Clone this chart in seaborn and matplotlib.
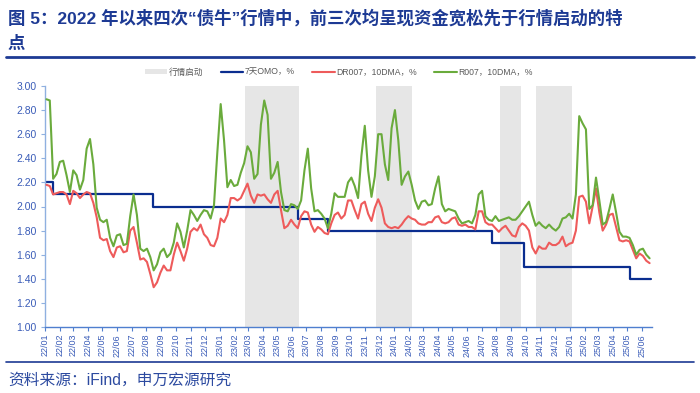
import matplotlib
matplotlib.use("Agg")
import matplotlib.pyplot as plt
import matplotlib.dates as mdates
from matplotlib.patches import Patch
from matplotlib.lines import Line2D
import pandas as pd
import seaborn as sns

sns.set_style("white")
plt.rcParams['font.family'] = ['Liberation Sans', 'Noto Sans CJK SC', 'DejaVu Sans']
plt.rcParams['axes.unicode_minus'] = False

# weekly observation dates
week_dates = pd.date_range("2022-01-04", periods=181, freq="7D")

r007 = [2.89, 2.88, 2.23, 2.27, 2.37, 2.38, 2.26, 2.12, 2.30, 2.26, 2.14, 2.22, 2.48, 2.56, 2.35, 1.99, 1.89, 1.87, 1.89, 1.74,
        1.67, 1.76, 1.77, 1.68, 1.69, 1.92, 2.10, 1.93, 1.65, 1.63, 1.65, 1.58, 1.47, 1.52, 1.62, 1.65, 1.58, 1.61, 1.70, 1.86,
        1.79, 1.66, 1.80, 1.97,
        1.93, 1.88, 1.93, 1.97, 1.96, 1.90, 2.01, 2.45, 2.85, 2.55, 2.16, 2.22, 2.17, 2.18, 2.28, 2.36, 2.50, 2.45, 2.23, 2.27,
        2.68, 2.88, 2.76, 2.23, 2.28, 2.37, 2.12, 1.97, 1.96, 2.02, 2.01, 1.98, 2.05, 2.30, 2.48, 2.15, 1.96, 1.97, 1.94, 1.90,
        1.82, 1.94, 2.11, 2.08, 2.08,
        2.08, 2.20, 2.24, 2.17, 2.07, 2.42, 2.67, 2.30, 2.08, 2.25, 2.60, 2.60, 2.35, 2.22, 2.65, 2.80, 2.55, 2.18, 2.25, 2.29,
        2.18, 2.05, 1.98, 2.04, 2.05, 2.01, 2.02, 2.15, 2.25, 2.02, 1.96, 1.98, 1.97, 1.96, 1.90, 1.86, 1.87, 1.88, 1.86, 1.93,
        2.10, 2.13, 1.92, 1.89, 1.88,
        1.92, 1.88, 1.89, 1.90, 1.91, 1.89, 1.89, 1.92, 1.96, 2.00, 2.04, 1.93, 1.84, 1.87, 1.84, 1.82, 1.85, 1.82, 1.80, 1.83,
        1.90, 1.91, 1.94, 1.90, 2.10, 2.75, 2.69, 2.64, 1.98, 2.01, 2.24, 2.05, 1.85, 1.87, 1.98, 2.10, 1.95, 1.79, 1.75, 1.75,
        1.74, 1.68, 1.60, 1.64, 1.65, 1.60, 1.57]

dr007 = [2.18, 2.17, 2.10, 2.11, 2.12, 2.12, 2.10, 2.02, 2.13, 2.11, 2.07, 2.10, 2.12, 2.11, 2.03, 1.91, 1.74, 1.72, 1.73, 1.63,
         1.58, 1.66, 1.67, 1.62, 1.63, 1.80, 1.83, 1.70, 1.56, 1.57, 1.54, 1.44, 1.33, 1.37, 1.45, 1.51, 1.47, 1.47, 1.60, 1.70,
         1.63, 1.55, 1.65, 1.79,
         1.82, 1.80, 1.85, 1.77, 1.74, 1.68, 1.67, 1.74, 1.90, 1.87, 1.93, 2.07, 2.07, 2.05, 2.07, 2.13, 2.19, 2.09, 2.03, 2.10,
         2.09, 2.10, 2.06, 2.03, 2.10, 2.13, 1.97, 1.82, 1.84, 1.89, 1.85, 1.82, 1.92, 1.96, 1.95, 1.85, 1.79, 1.83, 1.81, 1.78,
         1.77, 1.86, 1.93, 1.95, 1.90,
         1.93, 2.05, 2.05, 1.97, 1.90, 2.02, 2.04, 1.94, 1.88, 1.99, 2.06, 1.99, 1.86, 1.83, 1.82, 1.83, 1.82, 1.85, 1.89, 1.92,
         1.90, 1.89, 1.86, 1.85, 1.85, 1.87, 1.87, 1.91, 1.92, 1.87, 1.86, 1.87, 1.90, 1.91, 1.85, 1.84, 1.85, 1.83, 1.83, 1.81,
         1.96, 1.96, 1.87, 1.85, 1.85,
         1.82, 1.79, 1.82, 1.84, 1.80, 1.76, 1.75, 1.83, 1.86, 1.84, 1.80, 1.66, 1.61, 1.67, 1.65, 1.65, 1.70, 1.68, 1.68, 1.70,
         1.75, 1.67, 1.69, 1.70, 1.80, 2.08, 2.09, 2.04, 1.86, 2.00, 2.15, 1.95, 1.80, 1.85, 1.93, 1.94, 1.83, 1.72, 1.71, 1.72,
         1.71, 1.64, 1.57, 1.61, 1.59, 1.55, 1.53]

omo_dates = ["2022-01-04", "2022-01-17", "2022-08-15", "2023-06-13", "2023-08-15",
             "2024-07-22", "2024-09-27", "2025-05-08", "2025-06-20"]
omo_rate = [2.20, 2.10, 2.00, 1.90, 1.80, 1.70, 1.50, 1.40, 1.40]

rally_start = ["2023-02-22", "2023-11-23", "2024-08-08", "2024-10-22"]
rally_end = ["2023-06-15", "2024-02-06", "2024-09-22", "2025-01-05"]

legend_labels = ["行情启动", "7天OMO，%", "DR007，10DMA，%", "R007，10DMA，%"]
title_line1 = "图 5：2022 年以来四次“债牛”行情中，前三次均呈现资金宽松先于行情启动的特"
title_line2 = "点"
source_text = "资料来源：iFind，申万宏源研究"

C_OMO = "#0a2d8f"
C_DR = "#ee5b5b"
C_R = "#6aab3c"
C_SHADE = "#e6e6e6"
C_AX = "#4f7fcf"
C_TICK = "#3a5cb8"
C_TITLE = "#1d3a94"

df = pd.DataFrame({"date": week_dates, "DR007": dr007, "R007": r007})
omo = pd.DataFrame({"date": pd.to_datetime(omo_dates), "rate": omo_rate})

fig = plt.figure(figsize=(7.0, 3.93), dpi=100)
ax = fig.add_axes([45 / 700, 1 - 327 / 393, (652 - 45) / 700, (327 - 86) / 393])

for s, e in zip(rally_start, rally_end):
    ax.axvspan(pd.Timestamp(s), pd.Timestamp(e), color=C_SHADE, lw=0, zorder=0)

sns.lineplot(data=omo, x="date", y="rate", ax=ax, color=C_OMO, lw=1.6, drawstyle="steps-post", zorder=2)
sns.lineplot(data=df, x="date", y="DR007", ax=ax, color=C_DR, lw=1.5, zorder=3)
sns.lineplot(data=df, x="date", y="R007", ax=ax, color=C_R, lw=1.5, zorder=4)

ax.set_xlim(pd.Timestamp("2022-01-01"), pd.Timestamp("2025-06-22"))
ax.set_ylim(1.0, 3.0)
ax.set_yticks([1.0 + 0.2 * i for i in range(11)])
ax.yaxis.set_major_formatter(plt.FuncFormatter(lambda v, p: f"{v:.2f}"))
ax.xaxis.set_major_locator(mdates.MonthLocator())
ax.xaxis.set_major_formatter(mdates.DateFormatter("%y/%m"))
ax.set_xlabel("")
ax.set_ylabel("")
for lab in ax.get_xticklabels():
    lab.set_rotation(90)

for sp in ["top", "right"]:
    ax.spines[sp].set_visible(False)
ax.spines["left"].set_color("#8fb0e0")
ax.spines["bottom"].set_color(C_AX)
ax.spines["left"].set_linewidth(1.0)
ax.spines["bottom"].set_linewidth(1.0)
ax.tick_params(axis="x", which="major", length=3, width=0.8, color=C_AX, labelsize=6.5,
               labelcolor=C_TICK, pad=2, direction="out", bottom=True)
ax.tick_params(axis="y", which="major", length=3, width=0.8, color="#8fb0e0", labelsize=7.5,
               labelcolor=C_TICK, pad=3, direction="out", left=True)
ax.grid(False)
ax.set_facecolor("white")

handles = [Patch(facecolor=C_SHADE, edgecolor="none"),
           Line2D([0], [0], color=C_OMO, lw=1.6),
           Line2D([0], [0], color=C_DR, lw=1.5),
           Line2D([0], [0], color=C_R, lw=1.5)]
fig.legend(handles, legend_labels, loc="center left", bbox_to_anchor=(145 / 700, 1 - 72 / 393), ncol=4,
           frameon=False, fontsize=6.2, handlelength=2.6, handleheight=0.55, columnspacing=2.0,
           handletextpad=0.2, labelcolor="#595959", borderpad=0, borderaxespad=0)

fig.text(8 / 700, 1 - 18 / 393, title_line1, fontsize=12.5, fontweight="bold", color=C_TITLE,
         ha="left", va="center")
fig.text(8 / 700, 1 - 44 / 393, title_line2, fontsize=12.5, fontweight="bold", color=C_TITLE,
         ha="left", va="center")
fig.add_artist(Line2D([6 / 700, 694 / 700], [1 - 57 / 393, 1 - 57 / 393], color=C_TITLE, lw=2.0))
fig.add_artist(Line2D([6 / 700, 694 / 700], [1 - 362 / 393, 1 - 362 / 393], color=C_TITLE, lw=1.2))
fig.text(8 / 700, 1 - 380 / 393, source_text, fontsize=11.3, color="#2c4aa0", ha="left", va="center")

fig.savefig("out.png", dpi=100, facecolor="white")
